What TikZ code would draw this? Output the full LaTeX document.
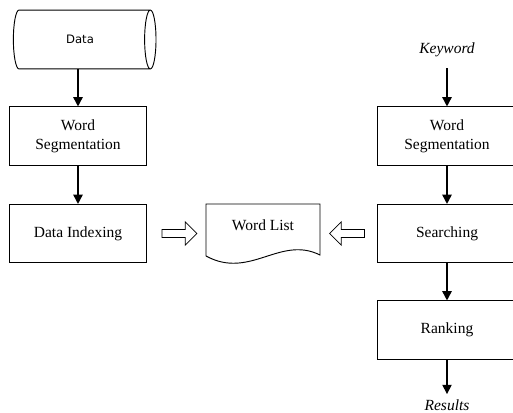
\documentclass[tikz,border=0pt]{standalone}
\usepackage{fontspec}
\setmainfont{Liberation Serif}
\newfontfamily\datafont{DejaVu Sans}
\usetikzlibrary{shapes.geometric,shapes.arrows,arrows.meta}

\tikzset{
  procbox/.style={draw, rectangle, line width=0.6pt, minimum width=88pt,
    minimum height=37.5pt, align=center, inner sep=2pt},
  flow/.style={-{Triangle[length=6pt,width=6pt]}, line width=1pt},
  hollow/.style={draw, single arrow, line width=0.5pt, inner xsep=0pt, inner ysep=2.3pt,
    minimum height=22.5pt, minimum width=0pt, single arrow head extend=5pt},
}

\begin{document}
\begin{tikzpicture}[x=0.645pt, y=-0.645pt]
  \clip (0,0) rectangle (513,412);
      % storage
      \node[draw, cylinder, line width=0.6pt, minimum width=38pt, minimum height=92pt,
        aspect=0.6, font=\datafont\fontsize{7.5}{9}\selectfont] (data) at (80,39.5) {Data};
      % left column
      \node[procbox] (wseg1) at (78,136) {Word\\Segmentation};
      \node[procbox] (index) at (78,233.5) {Data Indexing};
      % right column
      \node[font=\itshape] (keyword) at (447,50) {Keyword};
      \node[procbox, minimum width=90pt] (wseg2) at (447,136) {Word\\Segmentation};
      \node[procbox, minimum width=90pt] (search) at (447,233.5) {Searching};
      \node[procbox, minimum width=90pt] (rank) at (447,330) {Ranking};
      \node[font=\itshape] (results) at (447,405) {Results};
      % word list document
      \node (wordlist) at (263,225) {Word List};
      \draw[line width=0.6pt] (206,256) -- (206,204) -- (320,204) -- (320,255)
        .. controls (280,235) and (250,280) .. (206,256);
      \node[hollow] (toleft) at (177.5,233.5) {};
      \node[hollow, shape border rotate=180] (toright) at (349,233.5) {};

      \draw[flow] (data.south -| wseg1.north) -- (wseg1.north);
      \draw[flow] (wseg1) -- (index);
      \draw[flow] (keyword.south |- 0,68) -- (wseg2.north);
      \draw[flow] (wseg2) -- (search);
      \draw[flow] (search) -- (rank);
      \draw[flow] (rank) -- (results.north);
\end{tikzpicture}
\end{document}
